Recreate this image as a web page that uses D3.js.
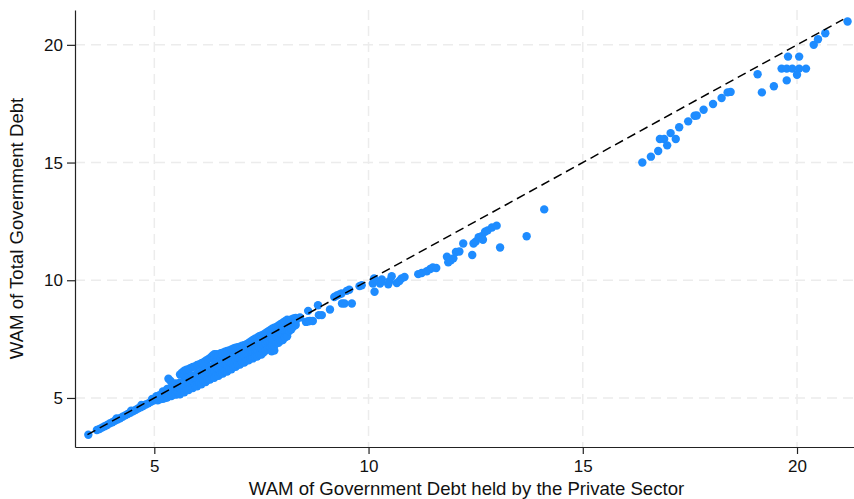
<!DOCTYPE html>
<html>
<head>
<meta charset="utf-8">
<script src="https://cdn.jsdelivr.net/npm/d3@7"></script>
<style>
  html, body { margin: 0; padding: 0; background: #fff; }
  svg { display: block; font-family: "Liberation Sans", Arial, sans-serif; }
</style>
</head>
<body>
<svg id="chart" width="854" height="499"></svg>
<script>
// WAM (years): [held by private sector, total government debt]
const lowBand = [
  [3.46,3.44],[3.66,3.64],[3.72,3.68],[3.78,3.74],[3.84,3.8],[3.9,3.85],[3.96,3.92],
  [4.02,3.97],[4.08,4.03],[4.14,4.08],[4.2,4.14],[4.26,4.2],[4.32,4.26],[4.38,4.32],
  [4.44,4.37],[4.5,4.43],[4.56,4.49],[4.62,4.55],[4.68,4.6],[4.74,4.66],[4.8,4.72],
  [4.86,4.77],[4.92,4.84],[4.98,4.89],[5.04,4.95],[5.1,5.0],[5.16,5.04],[4.12,4.13],
  [4.46,4.46],[4.7,4.7],[4.95,4.96],[5.05,5.07],[5.12,5.12],[5.08,4.9],[5.15,4.95]
];

const mainBand = [
  [5.2,4.96],[5.2,5.14],[5.2,5.28],[5.25,5.0],[5.25,5.22],
  [5.3,5.02],[5.3,5.2],[5.3,5.38],[5.33,5.82],[5.38,5.72],
  [5.4,5.08],[5.4,5.26],[5.4,5.46],[5.45,5.16],[5.45,5.36],
  [5.5,5.14],[5.5,5.32],[5.5,5.52],[5.5,5.62],[5.55,5.24],[5.55,5.46],
  [5.6,5.16],[5.6,5.44],[5.6,5.66],[5.6,6.0],[5.65,5.28],[5.65,5.58],[5.65,6.08],
  [5.7,5.24],[5.7,5.52],[5.7,5.74],[5.7,5.98],[5.7,6.16],[5.75,5.36],[5.75,5.86],[5.75,6.2],
  [5.8,5.34],[5.8,5.64],[5.8,5.88],[5.8,6.22],[5.85,5.46],[5.85,5.78],[5.85,6.28],
  [5.9,5.42],[5.9,5.72],[5.9,5.96],[5.9,6.32],[5.95,5.52],[5.95,5.86],[5.95,6.34],
  [6.0,5.5],[6.0,5.8],[6.0,6.04],[6.0,6.4],[6.05,5.62],[6.05,5.94],[6.05,6.42],
  [6.1,5.58],[6.1,5.88],[6.1,6.12],[6.1,6.48],[6.15,5.7],[6.15,6.02],[6.15,6.52],
  [6.2,5.68],[6.2,5.98],[6.2,6.22],[6.2,6.58],[6.25,5.78],[6.25,6.1],[6.25,6.64],
  [6.3,5.78],[6.3,6.08],[6.3,6.32],[6.3,6.7],[6.35,5.88],[6.35,6.2],[6.35,6.78],
  [6.4,5.86],[6.4,6.16],[6.4,6.4],[6.4,6.64],[6.4,6.86],[6.45,5.96],[6.45,6.28],[6.45,6.58],[6.45,6.86],
  [6.5,5.94],[6.5,6.24],[6.5,6.48],[6.5,6.84],[6.55,6.04],[6.55,6.36],[6.55,6.64],[6.55,6.9],
  [6.6,6.04],[6.6,6.34],[6.6,6.58],[6.6,6.92],[6.65,6.14],[6.65,6.46],[6.65,6.72],[6.65,6.96],
  [6.7,6.12],[6.7,6.42],[6.7,6.66],[6.7,7.0],[6.75,6.22],[6.75,6.54],[6.75,7.02],
  [6.8,6.22],[6.8,6.52],[6.8,6.74],[6.8,7.06],[6.85,6.32],[6.85,6.62],[6.85,7.1],
  [6.9,6.32],[6.9,6.62],[6.9,6.84],[6.9,7.14],[6.95,6.42],[6.95,6.72],[6.95,7.16],
  [7.0,6.42],[7.0,6.72],[7.0,6.94],[7.0,7.18],[7.05,6.52],[7.05,6.82],[7.05,7.22],
  [7.1,6.5],[7.1,6.8],[7.1,7.0],[7.1,7.24],[7.15,6.6],[7.15,6.9],[7.15,7.28],
  [7.2,6.6],[7.2,6.88],[7.2,7.08],[7.2,7.34],[7.25,6.68],[7.25,6.98],[7.25,7.4],
  [7.3,6.68],[7.3,6.96],[7.3,7.16],[7.3,7.46],[7.35,6.76],[7.35,7.06],[7.35,7.52],
  [7.4,6.76],[7.4,7.04],[7.4,7.24],[7.4,7.56],[7.45,6.84],[7.45,7.14],[7.45,7.62],
  [7.5,6.84],[7.5,7.12],[7.5,7.32],[7.5,7.66],[7.55,6.94],[7.55,7.22],[7.55,7.7],
  [7.6,7.02],[7.6,7.3],[7.6,7.5],[7.6,7.76],[7.65,7.12],[7.65,7.4],[7.65,7.82],
  [7.7,7.14],[7.7,7.42],[7.7,7.6],[7.7,7.88],[7.74,6.98],[7.8,7.02],
  [7.75,7.24],[7.75,7.52],[7.75,7.94],
  [7.8,7.22],[7.8,7.5],[7.8,7.7],[7.8,7.98],[7.85,7.32],[7.85,7.62],[7.85,8.02],
  [7.9,7.34],[7.9,7.62],[7.9,7.8],[7.9,8.08],[7.95,7.44],[7.95,7.72],[7.95,8.14],
  [8.0,7.46],[8.0,7.74],[8.0,7.92],[8.0,8.2],[8.05,7.58],[8.05,7.86],[8.05,8.26],
  [8.1,7.62],[8.1,7.9],[8.1,8.06],[8.1,8.32],[8.15,7.84],[8.15,8.02],[8.15,8.3],
  [8.2,7.92],[8.2,8.12],[8.2,8.34],[8.25,8.04],[8.25,8.22],[8.25,8.38],
  [8.3,8.1],[8.3,8.26],[8.3,8.4],[8.4,8.42]
];

const midRange = [
  [8.54,8.23],[8.59,8.26],[8.63,8.27],[8.7,8.27],[8.59,8.7],[8.82,8.94],
  [8.84,8.52],[8.91,8.52],[9.1,8.76],[9.2,9.29],[9.26,9.35],[9.32,9.4],[9.37,9.44],
  [9.49,9.55],[9.55,9.6],[9.38,9.01],[9.44,9.01],[9.61,9.01],[9.79,9.75],[9.84,9.79],
  [10.1,9.86],[10.13,10.08],[10.14,9.51],[10.27,9.86],[10.31,10.03],[10.29,9.93],
  [10.46,9.83],[10.49,9.97],[10.54,10.17],[10.66,9.88],[10.72,9.97],[10.77,10.08],
  [10.84,10.14],[11.16,10.26],[11.24,10.31],[11.36,10.38],[11.44,10.48],
  [11.5,10.54],[11.58,10.52],[11.83,11.0],[11.86,10.76],[11.92,10.85],[11.98,10.93],
  [12.04,11.2],[12.12,11.22],[12.21,11.56],[12.42,11.07],[12.45,11.56],[12.5,11.64],
  [12.57,11.83],[12.64,11.87],[12.67,11.72],[12.72,12.06],[12.78,12.12],
  [12.88,12.24],[12.99,12.32],[13.07,11.39],[13.69,11.87],[14.1,13.01]
];

const highRange = [
  [16.39,15.0],[16.59,15.25],[16.76,15.49],[16.8,16.0],[16.9,16.0],[16.97,15.73],
  [17.05,16.25],[17.17,16.0],[17.25,16.5],[17.46,16.75],[17.61,16.99],[17.66,17.0],
  [17.82,17.24],[18.04,17.49],[18.24,17.74],[18.38,17.98],[18.45,18.0],
  [19.08,18.75],[19.18,17.98],[19.46,18.24],[19.76,18.49],[19.64,18.99],[19.76,18.99],
  [19.89,18.99],[20.05,18.99],[20.21,18.99],[19.79,19.5],[20.05,19.5],[20.0,18.73],
  [20.39,20.0],[20.49,20.24],[20.66,20.49],[21.18,20.99]
];

// 45-degree reference segment (same value on both axes)
const diagonal = [3.44, 21.08];

const xTicks = [5, 10, 15, 20];
const yTicks = [5, 10, 15, 20];

const xTitle = "WAM of Government Debt held by the Private Sector";
const yTitle = "WAM of Total Government Debt";

const points = lowBand.concat(mainBand, midRange, highRange);

const svg = d3.select("#chart");
const plot = { left: 75, right: 854, top: 10, bottom: 447 };

const x = d3.scaleLinear().domain([3.149, 21.33]).range([plot.left, plot.right]);
const y = d3.scaleLinear().domain([2.917, 21.48]).range([plot.bottom, plot.top]);

// grid
const grid = svg.append("g").attr("stroke", "#ececec").attr("stroke-width", 1.5)
  .attr("stroke-dasharray", "10,6");
grid.selectAll("line.gx").data(xTicks).join("line")
  .attr("x1", d => x(d)).attr("x2", d => x(d))
  .attr("y1", plot.top).attr("y2", plot.bottom);
grid.selectAll("line.gy").data(yTicks).join("line")
  .attr("y1", d => y(d)).attr("y2", d => y(d))
  .attr("x1", plot.left).attr("x2", plot.right);

// scatter
svg.append("g").attr("fill", "#1e8cff")
  .selectAll("circle").data(points).join("circle")
  .attr("cx", d => x(d[0])).attr("cy", d => y(d[1])).attr("r", 4.2);

// y = x line
svg.append("path")
  .datum(diagonal)
  .attr("fill", "none").attr("stroke", "#000").attr("stroke-width", 1.5)
  .attr("stroke-dasharray", "9,5")
  .attr("d", d3.line().x(d => x(d)).y(d => y(d)));

// axes
const xAxis = svg.append("g").attr("transform", `translate(0,${plot.bottom})`)
  .call(d3.axisBottom(x).tickValues(xTicks).tickSize(7).tickSizeOuter(0).tickPadding(6));
const yAxis = svg.append("g").attr("transform", `translate(${plot.left},0)`)
  .call(d3.axisLeft(y).tickValues(yTicks).tickSize(8).tickSizeOuter(0).tickPadding(4));

[xAxis, yAxis].forEach(a => {
  a.select(".domain").attr("stroke", "#222").attr("stroke-width", 1.2);
  a.selectAll(".tick line").attr("stroke", "#222").attr("stroke-width", 1.2);
  a.selectAll(".tick text").attr("fill", "#111").style("font-size", "17px")
    .style("font-family", "'Liberation Sans', Arial, sans-serif");
});

svg.append("text")
  .attr("x", (plot.left + plot.right) / 2 + 2).attr("y", 495)
  .attr("text-anchor", "middle").attr("fill", "#111").style("font-size", "18.6px")
  .text(xTitle);

svg.append("text")
  .attr("transform", `translate(23,${(plot.top + plot.bottom) / 2}) rotate(-90)`)
  .attr("text-anchor", "middle").attr("fill", "#111").style("font-size", "18.6px")
  .text(yTitle);
</script>
</body>
</html>
